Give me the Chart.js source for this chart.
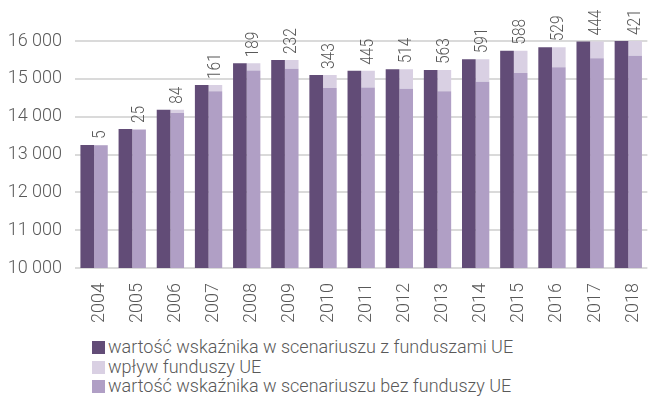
<!DOCTYPE html>
<html>
<head>
<meta charset="utf-8">
<script src="https://cdn.jsdelivr.net/npm/chart.js@4.4.1/dist/chart.umd.min.js"></script>
<style>
    body { margin: 0; background: #fff; }
    #wrap { position: relative; width: 665px; height: 402px; }
    #legend { position: absolute; left: 92px; top: 337px; font-family: Roboto, sans-serif; font-weight: 300; font-size: 18px; color: #595959; }
    #legend div { height: 19.5px; line-height: 19.5px; white-space: nowrap; }
    #legend span.box { display: inline-block; width: 13px; height: 13px; margin-right: 3px; vertical-align: -1px; }
</style>
</head>
<body>
<div id="wrap">
    <canvas id="chart" width="665" height="335"></canvas>
    <div id="legend"></div>
</div>
<script>
var years = ['2004', '2005', '2006', '2007', '2008', '2009', '2010', '2011', '2012', '2013', '2014', '2015', '2016', '2017', '2018'];
// wartość wskaźnika w scenariuszu z funduszami UE
var zFunduszami = [13248, 13671, 14182, 14836, 15410, 15498, 15101, 15214, 15251, 15233, 15516, 15744, 15834, 15990, 16033];
// wpływ funduszy UE
var wplyw = [5, 25, 84, 161, 189, 232, 343, 445, 514, 563, 591, 588, 529, 444, 421];
// wartość wskaźnika w scenariuszu bez funduszy UE
var bezFunduszy = [13243, 13646, 14098, 14675, 15221, 15266, 14758, 14769, 14737, 14670, 14925, 15156, 15305, 15546, 15612];
var yTicks = [10000, 11000, 12000, 13000, 14000, 15000, 16000];

var FONT = 'Roboto, sans-serif';
var GREY = '#595959';

function fmt(v) {
    return String(v).replace(/\B(?=(\d{3})+(?!\d))/g, ' ');
}

// etykiety z wartością wpływu nad słupkiem
var wplywLabels = {
    id: 'wplywLabels',
    afterDatasetsDraw: function (chart) {
        var ctx = chart.ctx;
        var meta = chart.getDatasetMeta(2);
        ctx.save();
        ctx.fillStyle = GREY;
        ctx.font = '300 18px ' + FONT;
        ctx.textAlign = 'left';
        ctx.textBaseline = 'middle';
        meta.data.forEach(function (bar, i) {
            var y = Math.max(bar.y, chart.chartArea.top) - 6;
            ctx.save();
            ctx.translate(bar.x, y);
            ctx.rotate(-Math.PI / 2);
            ctx.scale(0.86, 1); // węższe cyfry jak w oryginale
            ctx.fillText(String(wplyw[i]), 0, 0);
            ctx.restore();
        });
        ctx.restore();
    }
};

var datasets = [
    { label: 'wartość wskaźnika w scenariuszu z funduszami UE', data: zFunduszami, backgroundColor: '#624c77', stack: 'a' },
    { label: 'wartość wskaźnika w scenariuszu bez funduszy UE', data: bezFunduszy, backgroundColor: '#b09fc5', stack: 'b' },
    { label: 'wpływ funduszy UE', data: wplyw, backgroundColor: '#d9d0e3', stack: 'b' }
];
datasets.forEach(function (d) {
    d.barPercentage = 1.0;
    d.categoryPercentage = 0.716;
    d.borderWidth = 0;
});

var chart = new Chart(document.getElementById('chart'), {
    type: 'bar',
    data: { labels: years, datasets: datasets },
    plugins: [wplywLabels],
    options: {
        responsive: false,
        animation: false,
        layout: { padding: { top: 41, right: 3, left: 0, bottom: 0 } },
        plugins: {
            legend: { display: false },
            tooltip: { enabled: false }
        },
        scales: {
            x: {
                stacked: true,
                grid: { display: false, drawTicks: false },
                border: { display: false },
                afterFit: function (scale) { scale.height = 67; },
                ticks: {
                    minRotation: 90,
                    maxRotation: 90,
                    padding: 15,
                    labelOffset: 5,
                    color: GREY,
                    font: { family: FONT, size: 18, weight: 300 }
                }
            },
            y: {
                stacked: true,
                min: 10000,
                max: 16000,
                afterFit: function (scale) { scale.width = 75; },
                afterBuildTicks: function (scale) {
                    scale.ticks = yTicks.map(function (v) { return { value: v }; });
                },
                grid: { color: '#dadada', lineWidth: 2, drawTicks: false },
                border: { display: false },
                ticks: {
                    padding: 13,
                    color: GREY,
                    font: { family: FONT, size: 18, weight: 300 },
                    callback: function (v) { return fmt(v); }
                }
            }
        }
    }
});

// legenda: kolejność jak w oryginale
var legendOrder = [0, 2, 1];
var legendEl = document.getElementById('legend');
legendOrder.forEach(function (idx) {
    var ds = chart.data.datasets[idx];
    var row = document.createElement('div');
    var box = document.createElement('span');
    box.className = 'box';
    box.style.background = ds.backgroundColor;
    row.appendChild(box);
    row.appendChild(document.createTextNode(ds.label));
    legendEl.appendChild(row);
});
</script>
</body>
</html>
